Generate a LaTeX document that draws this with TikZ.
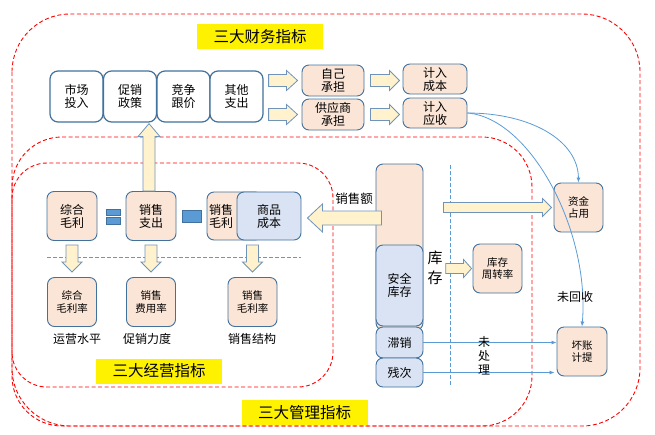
\documentclass[tikz,border=0pt]{standalone}
\usepackage{fontspec}
\setmainfont{Noto Sans CJK SC}
\usepackage{tikz}
\usetikzlibrary{calc}
\usetikzlibrary{arrows.meta}

\definecolor{peach}{HTML}{FBE5D6}
\definecolor{paleblue}{HTML}{DAE3F3}
\definecolor{edgeblue}{HTML}{41719C}
\definecolor{arrowfill}{HTML}{FFF2CC}
\definecolor{arrowedge}{HTML}{7093BA}
\definecolor{linkblue}{HTML}{5B9BD5}

\tikzset{
  box/.style={draw=edgeblue, fill=peach, line width=0.9pt, rounded corners=7pt, align=center, inner sep=1pt, font=\fontsize{12}{13}\selectfont},
  topbox/.style={box, fill=white, line width=1.2pt, rounded corners=8pt, minimum width=53, minimum height=51},
  smallbox/.style={box, minimum width=49, minimum height=49, font=\fontsize{10.5}{12.5}\selectfont},
  bluebox/.style={box, fill=paleblue},
  tag/.style={fill=yellow, minimum width=126, minimum height=25, inner sep=0pt, font=\fontsize{15.5}{18}\selectfont},
  fat/.style={draw=arrowedge, fill=arrowfill, line width=0.8pt, line join=miter},
  link/.style={draw=linkblue, line width=0.8pt, -{Latex[length=5pt,width=4pt]}},
  zone/.style={draw=red, line width=0.9pt, dash pattern=on 4pt off 2.5pt},
  guide/.style={draw=linkblue, line width=0.7pt, dash pattern=on 4pt off 2pt},
  lbl/.style={inner sep=0pt, align=center, font=\fontsize{12}{13}\selectfont},
}

% block arrow: from, to, body half width, head half width, head length
\newcommand{\fatarrow}[5]{%
  \coordinate (fa-s) at #1;
  \coordinate (fa-e) at #2;
  \coordinate (fa-h) at ($(fa-e)!#5!(fa-s)$);
  \draw[fat] ($(fa-s)!#3!90:(fa-e)$) -- ($(fa-h)!#3!90:(fa-e)$) -- ($(fa-h)!#4!90:(fa-e)$) -- (fa-e)
    -- ($(fa-h)!#4!-90:(fa-e)$) -- ($(fa-h)!#3!-90:(fa-e)$) -- ($(fa-s)!#3!-90:(fa-e)$) -- cycle;
}

\begin{document}
\begin{tikzpicture}[x=1pt, y=-1pt]
            \useasboundingbox (0,0) rectangle (655,434);

            % Draw the three dashed zones
            \draw[zone, rounded corners=58pt] (12,14) rectangle (640,426);
            \draw[zone, rounded corners=50pt] (12,137) rectangle (532,426);
            \draw[zone, rounded corners=35pt] (12,163) rectangle (333,387);

            \node[tag] (tcw) at (260,36.5) {三大财务指标};
            \node[tag] (tjy) at (159,371) {三大经营指标};
            \node[tag] (tgl) at (304.5,412.5) {三大管理指标};

            % Draw the top row of spending items
            \fill[peach] (70,74) rectangle (245,119);
            \foreach \nm/\xx/\txt in {sc/76.5/{市场\\投入}, cx/130/{促销\\政策}, jz/183.5/{竞争\\跟价}, qt/236.5/{其他\\支出}} {
                \node[topbox] (\nm) at (\xx,96.5) {\txt};
            }

            \node[box, minimum width=62, minimum height=31] (zj) at (333,80.5) {自己\\承担};
            \node[box, minimum width=62, minimum height=31] (gys) at (333,114.5) {供应商\\承担};
            \node[box, minimum width=64, minimum height=30] (cb) at (435,79) {计入\\成本};
            \node[box, minimum width=64, minimum height=30] (ys) at (435,113) {计入\\应收};

            \fatarrow{($(qt.east |- zj.west)+(5,0)$)}{($(zj.west)+(-4,0)$)}{6pt}{10pt}{11pt}
            \fatarrow{($(qt.east |- gys.west)+(5,0)$)}{($(gys.west)+(-4,0)$)}{6pt}{10pt}{11pt}
            \fatarrow{($(zj.east)+(6,0)$)}{($(zj.east -| cb.west)+(-3,0)$)}{6pt}{10pt}{10pt}
            \fatarrow{($(gys.east)+(6,0)$)}{($(gys.east -| ys.west)+(-3,0)$)}{6pt}{10pt}{10pt}

            % Draw the operating block
            \node[box, minimum width=50, minimum height=49] (zhml) at (72,216) {综合\\毛利};
            \node[box, minimum width=50, minimum height=49] (xszc) at (151,216) {销售\\支出};
            \node[box, minimum width=55, minimum height=48, text width=51, align=left, inner xsep=2pt] (xsml) at (234.5,216) {销售\\毛利};
            \node[bluebox, minimum width=64, minimum height=48] (spcb) at (269,216) {商品\\成本};

            \filldraw[fill=linkblue, draw=edgeblue, line width=0.5pt] (106,209) rectangle (120,215);
            \filldraw[fill=linkblue, draw=edgeblue, line width=0.5pt] (106,217) rectangle (120,224);
            \filldraw[fill=linkblue, draw=edgeblue, line width=0.5pt] (182,210) rectangle (201,222);

            \fatarrow{($(xszc.north)+(-2,0)$)}{($(xszc.north |- cx.south)+(-2,1)$)}{6pt}{11pt}{13pt}

            \draw[guide] (47,257) -- (301,257);

            \node[smallbox] (zhmll) at (72,302) {综合\\毛利率};
            \node[smallbox] (xsfyl) at (151,302) {销售\\费用率};
            \node[smallbox] (xsmll) at (252.5,302) {销售\\毛利率};
            \foreach \b in {zhmll,xsfyl,xsmll} {
                \fatarrow{($(\b.north |- zhml.south)+(0,4)$)}{($(\b.north)+(0,-5)$)}{6pt}{10pt}{10pt}
            }

            \node[lbl] (yysp) at (77,339) {运营水平};
            \node[lbl] (cxld) at (147,339) {促销力度};
            \node[lbl] (xsjg) at (252,339) {销售结构};

            % Draw the stock column
            \node[box, minimum width=47, minimum height=166] (kc) at (399.5,247) {};
            \node[bluebox, minimum width=47, minimum height=81] (aqkc) at (399.5,285.5) {安全\\库存};
            \node[bluebox, minimum width=47, minimum height=31] (zx) at (399.5,342.5) {滞销};
            \node[bluebox, minimum width=47, minimum height=29] (cc) at (399.5,372.5) {残次};

            \draw[guide] (450,165) -- (450,385);

            \fatarrow{($(kc.west |- spcb.center)+(6,2)$)}{($(spcb.east)+(6,2)$)}{7pt}{14pt}{15pt}
            \node[lbl, font=\fontsize{12.5}{14}\selectfont] (xse) at (354,199) {销售额};

            \node[smallbox] (zjzy) at (578.5,207.5) {资金\\占用};
            \node[smallbox] (kczzl) at (497.5,268.5) {库存\\周转率};
            \node[smallbox, minimum width=50] (hzjt) at (582,351.5) {坏账\\计提};

            \fatarrow{($(kc.east |- zjzy.west)+(20,0)$)}{($(zjzy.west)+(-2,0)$)}{5pt}{9pt}{9pt}

            \node[lbl, font=\fontsize{15}{20}\selectfont] (kclbl) at (435,268) {库\\存};
            \fatarrow{($(kclbl.east |- kczzl.west)+(3,0)$)}{($(kczzl.west)+(-1,0)$)}{5pt}{9pt}{8pt}

            % Draw the receivable links
            \draw[link] (ys.east) .. controls (530,113) and (578,140) .. (zjzy.north);
            \draw[link] (ys.east) .. controls (530,118) and (590,230) .. (hzjt.north);
            \draw[link] (zx.east) -- (zx.east -| hzjt.west);
            \draw[link] (cc.east) -- ($(cc.east -| hzjt.west)+(-2,0)$);

            \node[lbl] (whs) at (575,297) {未回收};
            \node[lbl, font=\fontsize{12}{14}\selectfont] (wcl) at (484,356) {未\\处\\理};

        \end{tikzpicture}
\end{document}
